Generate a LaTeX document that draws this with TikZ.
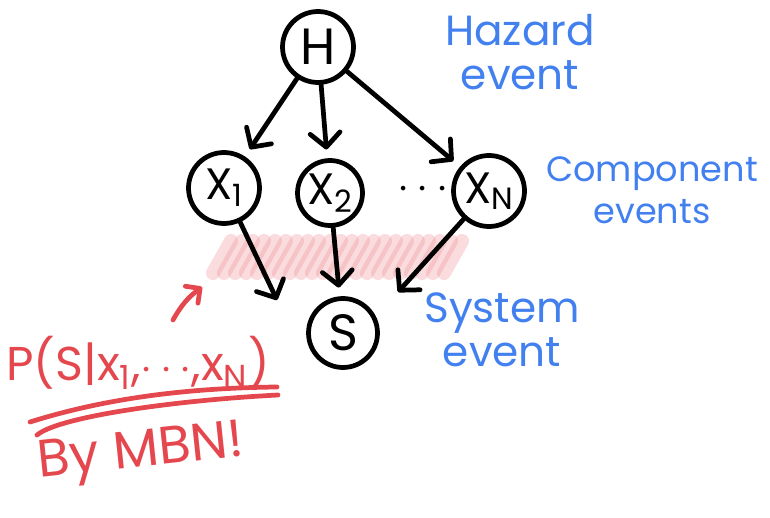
\documentclass[tikz,border=0pt]{standalone}
\usepackage{fontspec}
\setmainfont{Poppins}
\usetikzlibrary{arrows.meta}
\definecolor{inkblue}{RGB}{66,128,240}
\definecolor{inkred}{RGB}{228,72,78}
\definecolor{blush}{RGB}{236,130,138}
\begin{document}
\begin{tikzpicture}[
  x=0.02cm, y=-0.02cm,
  event/.style={circle, draw, line width=2.7pt, minimum size=1.42cm, inner sep=0pt,
    font=\fontsize{25}{25}\selectfont},
  arr/.style={line width=2.7pt, line cap=round, shorten >=5pt,
    -{Straight Barb[length=8pt,width=17pt,line width=2.7pt,round]}},
  note/.style={text=inkblue, font=\fontsize{24}{25}\selectfont, align=center},
  scrib/.style={text=inkred, font=\fontsize{27}{28}\selectfont},
]
\useasboundingbox (0,0) rectangle (770,517);
% events
\node[event, font=\fontsize{29}{29}\selectfont] (H) at (318,47) {H};
\node[event] (X1) at (224,188) {X\textsubscript{1}};
\node[event, minimum size=1.3cm] (X2) at (330,193) {X\textsubscript{2}};
\node[event] (XN) at (489,191) {X\textsubscript{N}};
\node[event, minimum size=1.38cm, font=\fontsize{29}{29}\selectfont] (S) at (343,333) {S};
\node (dots) at (423,190) {\fontsize{24}{24}\selectfont$\cdots$};
% highlighted band
\foreach \x in {222,233,...,456}
  \draw[blush, opacity=0.28, line width=8pt, line cap=round] (\x-9,273) -- (\x+9,241);
% arrows
\coordinate (tipL) at (277,300);
\coordinate (tipR) at (398,292);
\draw[arr] (H) -- (X1);
\draw[arr] (H) -- (X2);
\draw[arr] (H) -- (XN);
\draw[arr, shorten >=0pt] (X1) -- (tipL);
\draw[arr] (X2) -- (S);
\draw[arr, shorten >=0pt] (XN) -- (tipR);
% labels
\node[note] (hazard) at (520,52) {Hazard\\event};
\node[note, font=\fontsize{20}{24}\selectfont] (comp) at (652,190) {Component\\events};
\node[note] (sys) at (502,330) {System\\event};
% red notes
\coordinate (pa) at (173,320);
\coordinate (pb) at (202,287);
\draw[inkred, line width=2.7pt, line cap=round,
  -{Straight Barb[length=6pt,width=12pt,line width=2.7pt,round]}] (pa) to[bend left=12] (pb);
\node[scrib] (prob) at (138,363) {P(S|x\textsubscript{1},$\cdots$,x\textsubscript{N})};
\draw[inkred, line width=2.7pt, line cap=round] (30,422) .. controls (100,400) and (180,388) .. (277,387);
\draw[inkred, line width=2.7pt, line cap=round] (37,435) .. controls (60,416) and (180,400) .. (278,395);
\node[scrib, font=\fontsize{30}{30}\selectfont, rotate=6] (mbn) at (141,455) {By MBN!};
\end{tikzpicture}
\end{document}
